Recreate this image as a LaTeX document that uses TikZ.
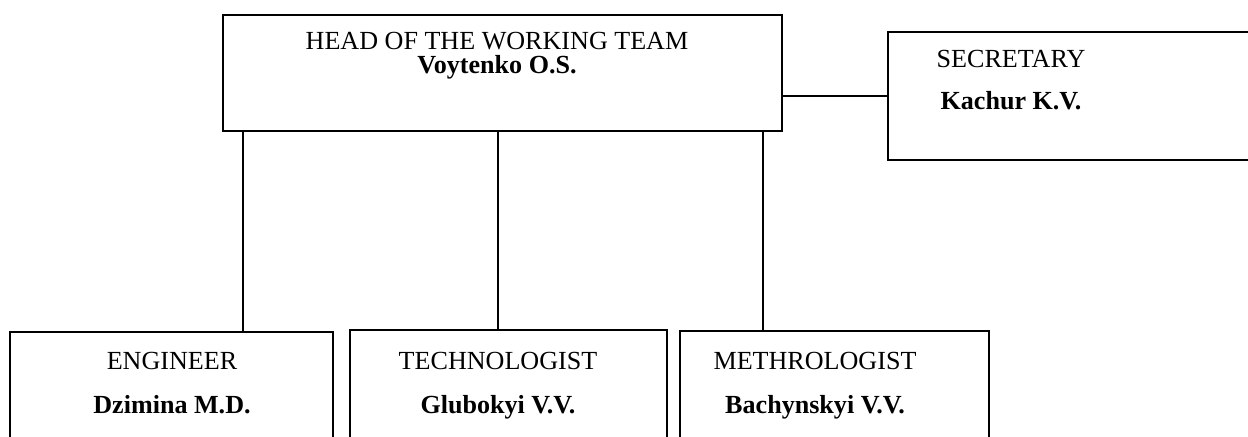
\documentclass[tikz,border=0pt]{standalone}
\usepackage{fontspec}
\setmainfont{Liberation Serif}
\usetikzlibrary{fit}
\tikzset{
    unitbox/.style={draw, line width=0.8pt, inner sep=0pt},
    post/.style={anchor=base, font=\fontsize{12}{14}\selectfont},
    staff/.style={anchor=base, font=\fontsize{12}{14}\selectfont\bfseries},
    link/.style={line width=0.8pt}
}

\begin{document}
\begin{tikzpicture}[x=0.46pt, y=-0.46pt]
    % Page frame
    \clip (0,0) rectangle (1248,437);

    % Boxes
    \node[unitbox, fit={(223,15) (782,131)}] (head) {};
    \node[unitbox, fit={(888,32) (1270,160)}] (sec) {};
    \node[unitbox, fit={(10,332) (333,470)}] (eng) {};
    \node[unitbox, fit={(350,330) (667,470)}] (tech) {};
    \node[unitbox, fit={(680,331) (989,470)}] (meth) {};

    % Head
    \node[post] (headpost) at (497,50) {HEAD OF THE WORKING TEAM};
    \node[staff] (headname) at (497,74) {Voytenko O.S.};

    % Secretary
    \node[post] (secpost) at (1011,68) {SECRETARY};
    \node[staff] (secname) at (1011,110) {Kachur K.V.};

    % Staff
    \node[post] (engpost) at (172,369) {ENGINEER};
    \node[staff] (engname) at (172,413) {Dzimina M.D.};
    \node[post] (techpost) at (498,369) {TECHNOLOGIST};
    \node[staff] (techname) at (498,413) {Glubokyi V.V.};
    \node[post] (methpost) at (815,369) {METHROLOGIST};
    \node[staff] (methname) at (815,413) {Bachynskyi V.V.};

    % Links
    \draw[link] (head.south west) ++(20.5,0) coordinate (drop1) -- (drop1 |- eng.north);
    \draw[link] (head.south) ++(-4.2,0) coordinate (drop2) -- (drop2 |- tech.north);
    \draw[link] (head.south east) ++(-20,0) coordinate (drop3) -- (drop3 |- meth.north);
    \draw[link] (sec.west) -- (sec.west -| head.east);
\end{tikzpicture}
\end{document}
